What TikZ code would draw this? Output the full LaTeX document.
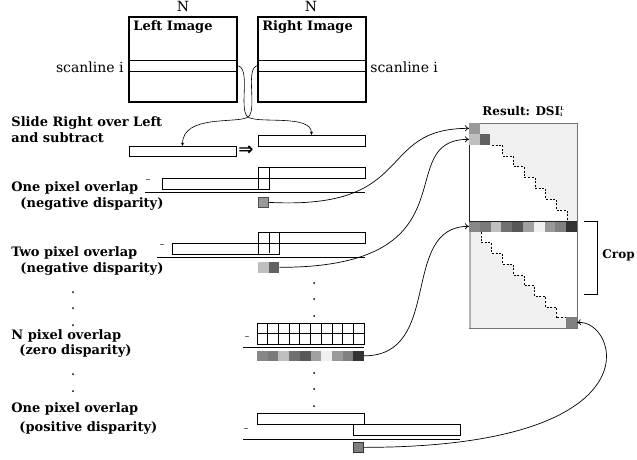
\documentclass[tikz,border=0pt]{standalone}
\usepackage{fontspec}
\setmainfont{DejaVu Serif}
\newfontfamily\arrowfont{DejaVu Sans}
\usetikzlibrary{arrows.meta}

\tikzset{
  lbl/.style={font=\bfseries\fontsize{13}{16}\selectfont, anchor=base west, inner sep=0pt},
  txt/.style={font=\fontsize{14}{16}\selectfont, inner sep=0pt, anchor=base},
  strip/.style={draw, minimum width=107pt, minimum height=11pt, inner sep=0pt, outer sep=0pt, anchor=north west},
  imgbox/.style={draw, line width=1.6pt, minimum width=108pt, minimum height=85pt, inner sep=0pt, outer sep=0pt, anchor=north west},
  scanbox/.style={draw, line width=0.6pt, minimum width=107pt, minimum height=11pt, inner sep=0pt, outer sep=0pt, anchor=north west},
  cell/.style={draw, minimum size=10.7pt, inner sep=0pt, outer sep=0pt, anchor=north west},
  pix/.style={fill=#1, minimum size=10.7pt, inner sep=0pt, outer sep=0pt, anchor=north west},
  dotc/.style={fill, circle, inner sep=0pt, minimum size=2pt},
  minus/.style={font=\fontsize{9}{9}\selectfont, inner sep=0pt},
  slide/.style={-{Stealth[length=3.5pt,width=3pt]}, line width=0.6pt},
  link/.style={-{To[length=4pt,width=6pt]}, line width=0.7pt},
}

\begin{document}
\begin{tikzpicture}[x=1pt, y=-1pt, line width=0.8pt]
\useasboundingbox (0,0) rectangle (637,460);

\node[imgbox] (imgL) at (129,17) {};
\node[imgbox] (imgR) at (258,17) {};
\node[txt] (nL) at (183,12) {N};
\node[txt] (nR) at (311,12) {N};
\node[lbl] (tL) at (133,30.5) {Left Image};
\node[lbl] (tR) at (262,30.5) {Right Image};
\node[scanbox] (scanL) at (129.5,60) {};
\node[scanbox] (scanR) at (258.5,60) {};
\node[txt, anchor=base east] (sL) at (124,72) {scanline i};
\node[txt, anchor=base west] (sR) at (370,72) {scanline i};

\node[lbl] (slide1) at (11,126) {Slide Right over Left};
\node[lbl] (slide2) at (11,142) {and subtract};
\node[strip, minimum height=10pt] (stripL) at (129,146) {};
\node[strip] (stripR) at (258,135) {};
\node[inner sep=0pt, font=\arrowfont\bfseries\fontsize{18}{18}\selectfont] (then) at (246,151) {⇒};
\coordinate (cross) at (248,117);
\draw[slide] (scanL.east) .. controls (252,66) and (238,110) .. (cross) .. controls (258,124) and (311.5,114) .. (stripR.north);
\draw[slide] (scanR.west) .. controls (244,66) and (258,110) .. (cross) .. controls (238,124) and (182.5,114) .. (stripL.north);

% one pixel, negative
\node[lbl] (one1) at (11,191.5) {One pixel overlap};
\node[lbl] (one2) at (20,207) {(negative disparity)};
\node[strip] (r1L) at (162,178) {};
\node[strip] (r1R) at (258,167) {};
\draw (r1R.north west) rectangle (r1L.south east);
\node[minus] (m1) at (148,181) {–};
\draw (145,192) -- (365,192);
\node[pix=black!40, draw=black!70, line width=0.6pt] (res1) at (258,197) {};

% two pixel, negative
\node[lbl] (two1) at (11,256.5) {Two pixel overlap};
\node[lbl] (two2) at (20,272) {(negative disparity)};
\node[strip] (r2L) at (172,243) {};
\node[strip] (r2R) at (258,232) {};
\draw (r2R.north west) rectangle (r2L.south east);
\draw (269,232) -- (269,253);
\node[minus] (m2) at (162,246) {–};
\draw (157,257) -- (365,257);
\node[pix=black!25] (res2a) at (258,262) {};
\node[pix=black!62] (res2b) at (268.7,262) {};

% N pixel, zero
\node[lbl] (zero1) at (11,339) {N pixel overlap};
\node[lbl] (zero2) at (19,354.5) {(zero disparity)};
\foreach \i in {0,...,9}
  \foreach \j in {0,1}
    \node[cell] at (257+\i*10.7,323+\j*10.7) {};
\node[minus] (m3) at (247,338) {–};
\draw (243,347) -- (364,347);
\foreach \i/\c in {0/47,1/52,2/25,3/56,4/66,5/37,6/6,7/40,8/50,9/80}
  \node[pix=black!\c] (n\i) at (257+\i*10.7,350.5) {};

% one pixel, positive
\node[lbl] (pos1) at (11,412) {One pixel overlap};
\node[lbl] (pos2) at (19,431) {(positive disparity)};
\node[strip] (rPL) at (257,413) {};
\node[strip] (rPR) at (353,424) {};
\draw (rPR.north west) rectangle (rPL.south east);
\node[minus] (m4) at (246,430) {–};
\draw (243,439) -- (460,439);
\node[pix=black!50, draw=black!80, line width=0.6pt] (resP) at (353,442) {};

\foreach \y in {283,299,316,373,389,406}
  \node[dotc] at (314,\y) {};
\foreach \y in {292,308,325,374,391,408}
  \node[dotc] at (73,\y) {};

% result
\node[lbl, font=\bfseries\fontsize{12}{14}\selectfont] (res) at (482,115) {Result: DSI\rlap{\raisebox{4.6pt}{\fontsize{5}{5}\selectfont L}}\raisebox{-1.2pt}{\fontsize{5}{5}\selectfont i}};
\node[draw=black!55, fill=black!6, minimum width=108pt, minimum height=205pt, inner sep=0pt, outer sep=0pt, anchor=north west] (dsi) at (469,123) {};
\fill[white] (469.5,145) -- (492,145)
  \foreach \k in {1,...,7} { -- ++(10.7,0) -- ++(0,10.8) } -- (469.5,221) -- cycle;
\fill[white] (481,232)
  \foreach \k in {1,...,8} { -- ++(0,10.7) -- ++(10.7,0) } -- (576.5,317.6) -- (576.5,232) -- cycle;
\draw[line width=0.6pt, dash pattern=on 2pt off 1.6pt] (492,145)
  \foreach \k in {1,...,7} { -- ++(10.7,0) -- ++(0,10.8) };
\draw[line width=0.6pt, dash pattern=on 2pt off 1.6pt] (481,232)
  \foreach \k in {1,...,8} { -- ++(0,10.7) -- ++(10.7,0) };
\draw[black!55] (dsi.north west) rectangle (dsi.south east);
\draw[black!30, line width=1.2pt] (470,232) -- (470,327.5);
\foreach \i/\c in {0/47,1/52,2/25,3/56,4/66,5/37,6/6,7/40,8/50,9/80}
  \node[pix=black!\c] (d\i) at (469+\i*10.8,221) {};
\draw[black!85] (dsi.north west) -- (469,221) -- (577,221);
\node[pix=black!40] (dA) at (469,123) {};
\node[pix=black!25] (dB) at (469,134) {};
\node[pix=black!62] (dC) at (479.7,134) {};
\node[pix=black!50] (dEnd) at (566.3,317.3) {};

\draw (584,221) -- (597,221) -- (597,294) -- (584,294);
\node[lbl, font=\bfseries\fontsize{12}{14}\selectfont] (crop) at (602,258) {Crop};

\draw[link] (res1.east) .. controls +(150,8) and +(-95,0) .. (dA.west);
\draw[link] (res2b.east) .. controls +(200,0) and +(-80,0) .. (dB.west);
\draw[link] (n9.east) .. controls +(80,0) and +(-70,0) .. (d0.west);
\draw[link] (resP.east) .. controls +(300,0) and +(40,-5) .. (dEnd.east);
\end{tikzpicture}
\end{document}
